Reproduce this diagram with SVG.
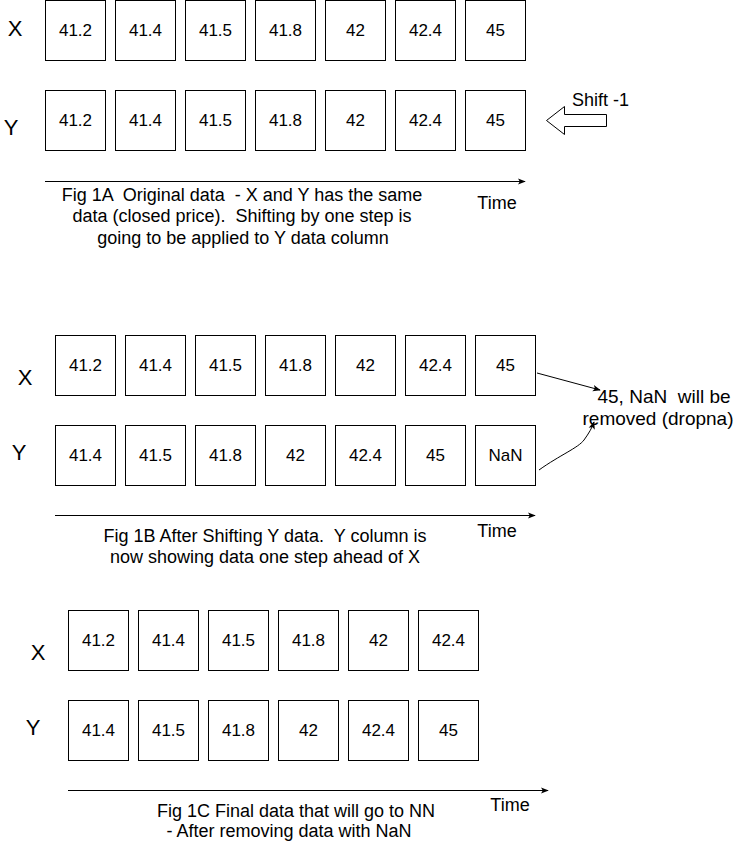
<svg xmlns="http://www.w3.org/2000/svg" width="736" height="841" viewBox="0 0 736 841">
<style>
.b{fill:#fff;stroke:#000;stroke-width:1}
text{font-family:"Liberation Sans",Arial,sans-serif;fill:#000;dominant-baseline:central;white-space:pre}
.v{font-size:17px;text-anchor:middle}
.l{font-size:22px;text-anchor:middle}
.c{font-size:18px;text-anchor:middle}
.n{font-size:19px;text-anchor:middle}
.ln{fill:none;stroke:#000;stroke-width:1}
</style>
<defs>
<marker id="ah" viewBox="0 0 10 10" refX="9" refY="5" markerWidth="8" markerHeight="8" markerUnits="userSpaceOnUse" orient="auto">
<path d="M0,1 L10,5 L0,9 L2.5,5 Z" fill="#000"/>
</marker>
</defs>
<rect width="736" height="841" fill="#fff"/>
<g id="fig1a">
<text class="l" x="15" y="28">X</text>
<text class="l" x="11" y="127">Y</text>
<g id="a-x1"><rect class="b" x="45.5" y="0.5" width="60" height="60"/><text class="v" x="75.5" y="30.5">41.2</text></g>
<g id="a-x2"><rect class="b" x="115.5" y="0.5" width="60" height="60"/><text class="v" x="145.5" y="30.5">41.4</text></g>
<g id="a-x3"><rect class="b" x="185.5" y="0.5" width="60" height="60"/><text class="v" x="215.5" y="30.5">41.5</text></g>
<g id="a-x4"><rect class="b" x="255.5" y="0.5" width="60" height="60"/><text class="v" x="285.5" y="30.5">41.8</text></g>
<g id="a-x5"><rect class="b" x="325.5" y="0.5" width="60" height="60"/><text class="v" x="355.5" y="30.5">42</text></g>
<g id="a-x6"><rect class="b" x="395.5" y="0.5" width="60" height="60"/><text class="v" x="425.5" y="30.5">42.4</text></g>
<g id="a-x7"><rect class="b" x="465.5" y="0.5" width="60" height="60"/><text class="v" x="495.5" y="30.5">45</text></g>
<g id="a-y1"><rect class="b" x="45.5" y="90.5" width="60" height="60"/><text class="v" x="75.5" y="120.5">41.2</text></g>
<g id="a-y2"><rect class="b" x="115.5" y="90.5" width="60" height="60"/><text class="v" x="145.5" y="120.5">41.4</text></g>
<g id="a-y3"><rect class="b" x="185.5" y="90.5" width="60" height="60"/><text class="v" x="215.5" y="120.5">41.5</text></g>
<g id="a-y4"><rect class="b" x="255.5" y="90.5" width="60" height="60"/><text class="v" x="285.5" y="120.5">41.8</text></g>
<g id="a-y5"><rect class="b" x="325.5" y="90.5" width="60" height="60"/><text class="v" x="355.5" y="120.5">42</text></g>
<g id="a-y6"><rect class="b" x="395.5" y="90.5" width="60" height="60"/><text class="v" x="425.5" y="120.5">42.4</text></g>
<g id="a-y7"><rect class="b" x="465.5" y="90.5" width="60" height="60"/><text class="v" x="495.5" y="120.5">45</text></g>
<g id="shift">
<polygon points="546.5,120.5 564.5,106.5 564.5,114.5 606.5,114.5 606.5,126.5 564.5,126.5 564.5,134.5" fill="#fff" stroke="#000" stroke-width="1"/>
<text x="572" y="100" style="font-size:18px">Shift -1</text>
</g>
<text class="c" x="497" y="203">Time</text>
<text class="c" x="242" y="195">Fig 1A  Original data  - X and Y has the same</text>
<text class="c" x="242" y="216">data (closed price).  Shifting by one step is</text>
<text class="c" x="243" y="238">going to be applied to Y data column</text>
</g>
<g id="fig1b">
<text class="l" x="25" y="377">X</text>
<text class="l" x="19" y="452">Y</text>
<g id="b-x1"><rect class="b" x="55.5" y="335.5" width="60" height="60"/><text class="v" x="85.5" y="365.5">41.2</text></g>
<g id="b-x2"><rect class="b" x="125.5" y="335.5" width="60" height="60"/><text class="v" x="155.5" y="365.5">41.4</text></g>
<g id="b-x3"><rect class="b" x="195.5" y="335.5" width="60" height="60"/><text class="v" x="225.5" y="365.5">41.5</text></g>
<g id="b-x4"><rect class="b" x="265.5" y="335.5" width="60" height="60"/><text class="v" x="295.5" y="365.5">41.8</text></g>
<g id="b-x5"><rect class="b" x="335.5" y="335.5" width="60" height="60"/><text class="v" x="365.5" y="365.5">42</text></g>
<g id="b-x6"><rect class="b" x="405.5" y="335.5" width="60" height="60"/><text class="v" x="435.5" y="365.5">42.4</text></g>
<g id="b-x7"><rect class="b" x="475.5" y="335.5" width="60" height="60"/><text class="v" x="505.5" y="365.5">45</text></g>
<g id="b-y1"><rect class="b" x="55.5" y="425.5" width="60" height="60"/><text class="v" x="85.5" y="455.5">41.4</text></g>
<g id="b-y2"><rect class="b" x="125.5" y="425.5" width="60" height="60"/><text class="v" x="155.5" y="455.5">41.5</text></g>
<g id="b-y3"><rect class="b" x="195.5" y="425.5" width="60" height="60"/><text class="v" x="225.5" y="455.5">41.8</text></g>
<g id="b-y4"><rect class="b" x="265.5" y="425.5" width="60" height="60"/><text class="v" x="295.5" y="455.5">42</text></g>
<g id="b-y5"><rect class="b" x="335.5" y="425.5" width="60" height="60"/><text class="v" x="365.5" y="455.5">42.4</text></g>
<g id="b-y6"><rect class="b" x="405.5" y="425.5" width="60" height="60"/><text class="v" x="435.5" y="455.5">45</text></g>
<g id="b-y7"><rect class="b" x="475.5" y="425.5" width="60" height="60"/><text class="v" x="505.5" y="455.5">NaN</text></g>
<g id="note">
<text class="n" x="664" y="396">45, NaN  will be</text>
<text class="n" x="658" y="418">removed (dropna)</text>
</g>
<text class="c" x="497" y="531">Time</text>
<text class="c" x="265" y="536">Fig 1B After Shifting Y data.  Y column is</text>
<text class="c" x="265" y="557">now showing data one step ahead of X</text>
</g>
<g id="fig1c">
<text class="l" x="38" y="652">X</text>
<text class="l" x="33" y="727">Y</text>
<g id="c-x1"><rect class="b" x="68.5" y="610.5" width="60" height="60"/><text class="v" x="98.5" y="640.5">41.2</text></g>
<g id="c-x2"><rect class="b" x="138.5" y="610.5" width="60" height="60"/><text class="v" x="168.5" y="640.5">41.4</text></g>
<g id="c-x3"><rect class="b" x="208.5" y="610.5" width="60" height="60"/><text class="v" x="238.5" y="640.5">41.5</text></g>
<g id="c-x4"><rect class="b" x="278.5" y="610.5" width="60" height="60"/><text class="v" x="308.5" y="640.5">41.8</text></g>
<g id="c-x5"><rect class="b" x="348.5" y="610.5" width="60" height="60"/><text class="v" x="378.5" y="640.5">42</text></g>
<g id="c-x6"><rect class="b" x="418.5" y="610.5" width="60" height="60"/><text class="v" x="448.5" y="640.5">42.4</text></g>
<g id="c-y1"><rect class="b" x="68.5" y="700.5" width="60" height="60"/><text class="v" x="98.5" y="730.5">41.4</text></g>
<g id="c-y2"><rect class="b" x="138.5" y="700.5" width="60" height="60"/><text class="v" x="168.5" y="730.5">41.5</text></g>
<g id="c-y3"><rect class="b" x="208.5" y="700.5" width="60" height="60"/><text class="v" x="238.5" y="730.5">41.8</text></g>
<g id="c-y4"><rect class="b" x="278.5" y="700.5" width="60" height="60"/><text class="v" x="308.5" y="730.5">42</text></g>
<g id="c-y5"><rect class="b" x="348.5" y="700.5" width="60" height="60"/><text class="v" x="378.5" y="730.5">42.4</text></g>
<g id="c-y6"><rect class="b" x="418.5" y="700.5" width="60" height="60"/><text class="v" x="448.5" y="730.5">45</text></g>
<text class="c" x="510" y="805">Time</text>
<text class="c" x="296" y="811">Fig 1C Final data that will go to NN</text>
<text class="c" x="289" y="831">- After removing data with NaN</text>
</g>
<g id="connectors">
<line class="ln" x1="45" y1="181.5" x2="525" y2="181.5" marker-end="url(#ah)"/>
<line class="ln" x1="55" y1="515.5" x2="535" y2="515.5" marker-end="url(#ah)"/>
<line class="ln" x1="68" y1="790.5" x2="548" y2="790.5" marker-end="url(#ah)"/>
<line class="ln" x1="537" y1="373" x2="600" y2="390" marker-end="url(#ah)"/>
<path class="ln" d="M539,470 C560,455 578,448 584,440 C589,433 592,428 594,422" marker-end="url(#ah)"/>
</g>
</svg>
